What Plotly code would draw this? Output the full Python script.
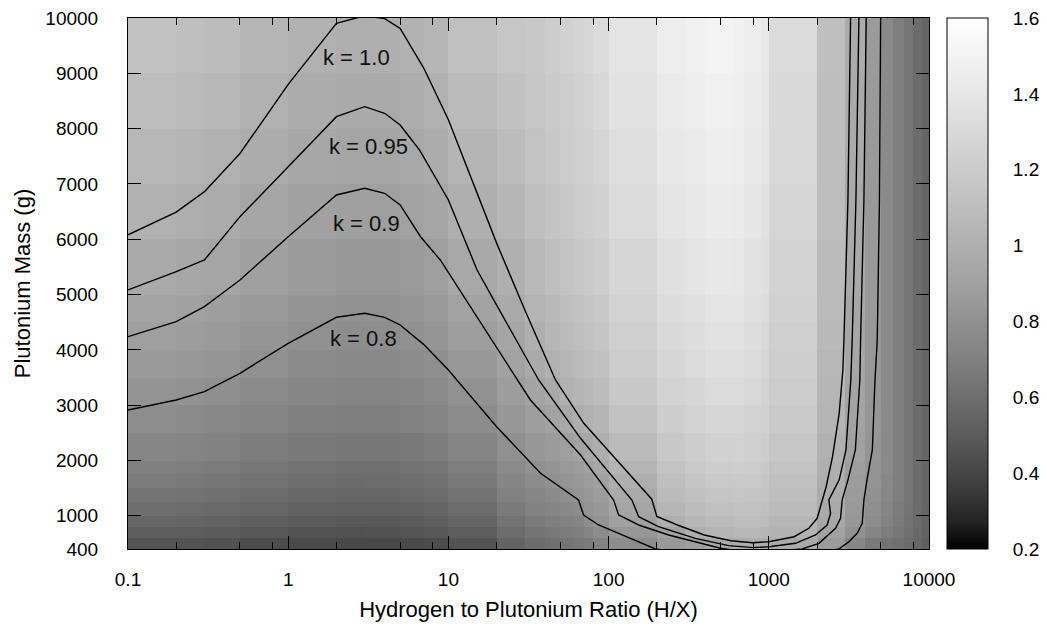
import math
import plotly.graph_objects as go

# ---------------- data ----------------
# H/X grid (cell edges of the pm3d map)
hx_edges = [0.1, 0.2, 0.3, 0.5, 1, 2, 3, 5, 7, 10, 20, 30, 40, 50, 60, 70, 80, 100,
            200, 300, 400, 600, 700, 900, 1000, 2000, 3000, 4000, 5000, 6000, 7000,
            8000, 9000, 10000]
# plutonium mass grid (cell edges, g)
mass_edges = [400, 600, 800, 1000, 1250, 1500, 1750, 2000, 2500, 3000, 3500, 4000, 4500,
              5000, 6000, 7000, 8000, 9000, 10000]

# k-eff read from the grey level of each cell, one list per H/X band (bottom -> top)
k_columns = [
    [0.467, 0.517, 0.558, 0.596, 0.633, 0.666, 0.695, 0.734, 0.779, 0.819, 0.855, 0.888, 0.918, 0.960, 1.009, 1.053, 1.093, 1.131],  # 0.1-0.2
    [0.459, 0.509, 0.549, 0.586, 0.623, 0.655, 0.684, 0.722, 0.766, 0.806, 0.841, 0.873, 0.903, 0.944, 0.992, 1.036, 1.075, 1.112],  # 0.2-0.3
    [0.450, 0.498, 0.537, 0.574, 0.610, 0.641, 0.669, 0.707, 0.750, 0.789, 0.823, 0.855, 0.884, 0.925, 0.972, 1.014, 1.053, 1.089],  # 0.3-0.5
    [0.433, 0.480, 0.518, 0.553, 0.587, 0.618, 0.645, 0.681, 0.723, 0.760, 0.793, 0.824, 0.852, 0.891, 0.936, 0.977, 1.014, 1.049],  # 0.5-1
    [0.418, 0.462, 0.499, 0.533, 0.566, 0.596, 0.622, 0.657, 0.697, 0.733, 0.765, 0.794, 0.821, 0.859, 0.903, 0.942, 0.978, 1.012],  # 1-2
    [0.410, 0.454, 0.490, 0.523, 0.556, 0.585, 0.610, 0.645, 0.684, 0.719, 0.751, 0.780, 0.806, 0.843, 0.886, 0.925, 0.960, 0.993],  # 2-3
    [0.411, 0.455, 0.491, 0.524, 0.557, 0.586, 0.611, 0.646, 0.685, 0.720, 0.752, 0.781, 0.808, 0.845, 0.888, 0.926, 0.962, 0.995],  # 3-5
    [0.420, 0.465, 0.502, 0.536, 0.569, 0.599, 0.625, 0.660, 0.700, 0.736, 0.769, 0.798, 0.825, 0.863, 0.907, 0.947, 0.983, 1.017],  # 5-7
    [0.433, 0.479, 0.517, 0.552, 0.586, 0.617, 0.644, 0.680, 0.722, 0.759, 0.792, 0.823, 0.851, 0.889, 0.935, 0.976, 1.013, 1.048],  # 7-10
    [0.462, 0.511, 0.551, 0.589, 0.626, 0.658, 0.687, 0.725, 0.770, 0.809, 0.845, 0.878, 0.907, 0.949, 0.997, 1.041, 1.080, 1.118],  # 10-20
    [0.538, 0.587, 0.627, 0.664, 0.700, 0.731, 0.759, 0.795, 0.838, 0.875, 0.908, 0.938, 0.966, 1.004, 1.048, 1.088, 1.124, 1.157],  # 20-30
    [0.59, 0.63, 0.67, 0.70, 0.735, 0.77, 0.80, 0.835, 0.88, 0.92, 0.965, 0.995, 1.03, 1.07, 1.11, 1.14, 1.16, 1.175],  # 30-40
    [0.61, 0.65, 0.69, 0.725, 0.76, 0.80, 0.82, 0.86, 0.91, 0.965, 1.01, 1.045, 1.07, 1.11, 1.145, 1.17, 1.19, 1.21],   # 40-50
    [0.63, 0.67, 0.71, 0.75, 0.79, 0.82, 0.85, 0.89, 0.95, 1.01, 1.05, 1.08, 1.10, 1.14, 1.175, 1.20, 1.22, 1.24],      # 50-60
    [0.65, 0.69, 0.73, 0.77, 0.81, 0.84, 0.87, 0.92, 0.99, 1.04, 1.08, 1.11, 1.13, 1.165, 1.20, 1.225, 1.245, 1.265],   # 60-70
    [0.67, 0.73, 0.79, 0.81, 0.84, 0.87, 0.90, 0.95, 1.01, 1.06, 1.10, 1.13, 1.15, 1.185, 1.22, 1.245, 1.265, 1.285],   # 70-80
    [0.71, 0.77, 0.81, 0.84, 0.87, 0.90, 0.95, 0.99, 1.04, 1.09, 1.12, 1.15, 1.175, 1.21, 1.245, 1.27, 1.29, 1.31],     # 80-100
    [0.78, 0.83, 0.90, 0.93, 0.96, 0.99, 1.03, 1.08, 1.13, 1.17, 1.20, 1.23, 1.25, 1.28, 1.315, 1.34, 1.365, 1.385],    # 100-200
    [0.85, 0.91, 1.00, 1.05, 1.08, 1.11, 1.14, 1.17, 1.21, 1.25, 1.28, 1.30, 1.32, 1.35, 1.38, 1.41, 1.43, 1.45],       # 200-300
    [0.89, 1.00, 1.05, 1.09, 1.12, 1.15, 1.18, 1.21, 1.25, 1.28, 1.31, 1.33, 1.35, 1.38, 1.41, 1.44, 1.46, 1.48],       # 300-400
    [0.95, 1.04, 1.08, 1.12, 1.15, 1.18, 1.21, 1.24, 1.28, 1.31, 1.34, 1.36, 1.38, 1.41, 1.44, 1.46, 1.48, 1.50],       # 400-600
    [0.98, 1.06, 1.10, 1.13, 1.16, 1.19, 1.22, 1.25, 1.28, 1.31, 1.34, 1.36, 1.38, 1.405, 1.43, 1.45, 1.47, 1.49],      # 600-700
    [0.99, 1.06, 1.10, 1.13, 1.15, 1.18, 1.20, 1.23, 1.26, 1.29, 1.31, 1.33, 1.35, 1.37, 1.40, 1.42, 1.44, 1.45],       # 700-900
    [0.99, 1.05, 1.09, 1.12, 1.14, 1.16, 1.18, 1.21, 1.24, 1.26, 1.28, 1.30, 1.32, 1.34, 1.36, 1.38, 1.40, 1.41],       # 900-1000
    [0.96, 1.02, 1.05, 1.08, 1.10, 1.12, 1.14, 1.16, 1.18, 1.20, 1.22, 1.23, 1.24, 1.26, 1.27, 1.29, 1.30, 1.31],       # 1000-2000
    [0.86, 0.91, 0.945, 0.96, 0.975, 0.99, 1.00, 1.015, 1.03, 1.045, 1.055, 1.065, 1.075, 1.085, 1.095, 1.10, 1.105, 1.11],  # 2000-3000
    [0.74, 0.80, 0.835, 0.85, 0.86, 0.87, 0.88, 0.90, 0.915, 0.925, 0.935, 0.94, 0.945, 0.95, 0.955, 0.96, 0.965, 0.97],    # 3000-4000
    [0.66, 0.73, 0.77, 0.79, 0.80, 0.81, 0.82, 0.825, 0.83, 0.835, 0.84, 0.845, 0.85, 0.85, 0.85, 0.855, 0.855, 0.86],      # 4000-5000
    [0.63, 0.68, 0.71, 0.73, 0.74, 0.75, 0.76, 0.76, 0.76, 0.76, 0.76, 0.76, 0.76, 0.76, 0.76, 0.76, 0.76, 0.76],           # 5000-6000
    [0.61, 0.645, 0.665, 0.675, 0.685, 0.69, 0.69, 0.69, 0.69, 0.69, 0.69, 0.69, 0.69, 0.69, 0.69, 0.69, 0.69, 0.69],       # 6000-7000
    [0.585, 0.61, 0.62, 0.63, 0.635, 0.635, 0.635, 0.635, 0.635, 0.635, 0.635, 0.635, 0.635, 0.635, 0.635, 0.635, 0.635, 0.635],  # 7000-8000
    [0.555, 0.57, 0.58, 0.585, 0.59, 0.59, 0.59, 0.59, 0.59, 0.59, 0.59, 0.59, 0.59, 0.59, 0.59, 0.59, 0.59, 0.59],        # 8000-9000
    [0.525, 0.535, 0.545, 0.55, 0.55, 0.55, 0.55, 0.55, 0.55, 0.55, 0.55, 0.55, 0.55, 0.55, 0.55, 0.55, 0.55, 0.55],       # 9000-10000
]

# contour lines (H/X, mass in g)
k100_hx = [0.1, 0.2, 0.3, 0.5, 1, 2, 3, 4, 5, 7, 10, 20, 30, 46.6, 70, 108, 186, 200, 269,
           395, 580, 790, 1000, 1440, 1778, 2004, 2104, 2155, 2280, 2500, 2750, 2900,
           2944, 3119, 3240]
k100_mass = [6080, 6490, 6860, 7550, 8800, 9905, 10040, 9990, 9810, 9100, 8160, 5930, 4720,
             3456, 2673, 2069, 1300, 990, 834, 653, 550, 514, 532, 622, 774, 955, 1165,
             1286, 1526, 2069, 2853, 3636, 4180, 6710, 10000]

k095_hx = [0.1, 0.2, 0.3, 0.5, 1, 2, 3, 4, 5, 6.6, 10, 15.1, 20, 30, 36.6, 66.8, 139.8, 154,
           205, 348, 562, 800, 1000, 1468, 1958, 2313, 2430, 2371, 2750, 3030, 3250,
           3316, 3498, 3652]
k095_mass = [5083, 5414, 5625, 6408, 7312, 8216, 8397, 8277, 8066, 7614, 6710, 5444, 4810,
             3901, 3456, 2401, 1286, 984, 803, 593, 460, 425, 442, 503, 653, 834, 1045,
             1286, 1650, 2190, 3456, 4180, 6710, 10000]

k090_hx = [0.1, 0.2, 0.3, 0.5, 1, 2, 3, 4, 5, 6.7, 8.9, 20, 32.5, 66.8, 107.5, 115.5, 154,
           237, 499, 600, 1200, 1614, 2054, 2610, 2805, 2871, 3120, 3470, 3700, 3741,
           3924, 4055]
k090_mass = [4239, 4510, 4781, 5263, 6046, 6800, 6922, 6831, 6620, 6046, 5625, 4050, 3094,
             2100, 1286, 1015, 834, 653, 413, 380, 370, 400, 503, 774, 955, 1286, 1650,
             2190, 3456, 4180, 6710, 10000]

k080_hx = [0.1, 0.2, 0.3, 0.5, 1, 2, 3, 4, 5, 7, 10, 20, 37.6, 64.9, 69.8, 86.6, 115.5,
           196, 300, 2000, 2738, 3162, 3562, 3830, 3924, 4100, 4430, 4600, 4753, 4906,
           4990]
k080_mass = [2913, 3094, 3244, 3577, 4119, 4589, 4661, 4589, 4450, 4100, 3636, 2611, 1769,
             1286, 1015, 834, 684, 400, 330, 330, 400, 532, 684, 865, 1286, 1650, 2190,
             3456, 4180, 6710, 10000]

contours = [(k100_hx, k100_mass), (k095_hx, k095_mass), (k090_hx, k090_mass),
            (k080_hx, k080_mass)]

label_text = ["k = 1.0", "k = 0.95", "k = 0.9", "k = 0.8"]
label_hx = [2.66, 3.16, 3.07, 2.94]
label_mass = [9277, 7668, 6276, 4197]

x_tick_vals = [0.1, 1, 10, 100, 1000, 10000]
x_tick_text = ["0.1", "1", "10", "100", "1000", "10000"]
x_minor_vals = [0.2, 0.5, 0.8, 2, 5, 8, 20, 50, 80, 200, 500, 800, 2000, 5000, 8000]
y_tick_vals = [400, 1000, 2000, 3000, 4000, 5000, 6000, 7000, 8000, 9000, 10000]
y_tick_text = [str(v) for v in y_tick_vals]
cb_tick_vals = [0.2, 0.4, 0.6, 0.8, 1.0, 1.2, 1.4, 1.6]
cb_tick_text = ["0.2", "0.4", "0.6", "0.8", "1", "1.2", "1.4", "1.6"]

# ---------------- figure ----------------
FONT = "Liberation Sans, Arial, Helvetica, sans-serif"
TICK_SIZE = 19
TEXT_SIZE = 22
z = [list(row) for row in zip(*k_columns)]

# gnuplot grey palette (gamma 1.5)
gray_scale = []
for i in range(21):
    t = i / 20
    g = round(255 * t ** (1 / 1.5))
    gray_scale.append([t, f"rgb({g},{g},{g})"])

fig = go.Figure()
fig.add_trace(go.Heatmap(
    x=hx_edges, y=mass_edges, z=z, zmin=0.2, zmax=1.6, colorscale=gray_scale,
    hoverinfo="skip",
    colorbar=dict(
        x=1.0225, xanchor="left", xpad=0, y=0, yanchor="bottom", ypad=0,
        len=1, lenmode="fraction", thickness=41, thicknessmode="pixels",
        outlinecolor="black", outlinewidth=1,
        tickvals=cb_tick_vals, ticktext=cb_tick_text,
        ticks="outside", ticklen=21, tickcolor="rgba(0,0,0,0)",
        tickfont=dict(family=FONT, size=TICK_SIZE, color="black"),
    ),
))

for hx, mass in contours:
    fig.add_trace(go.Scatter(x=hx, y=mass, mode="lines",
                             line=dict(color="black", width=1.4),
                             showlegend=False, hoverinfo="skip"))

for txt, hx, m in zip(label_text, label_hx, label_mass):
    fig.add_annotation(x=math.log10(hx), y=m, xref="x", yref="y", text=txt,
                       showarrow=False, font=dict(family=FONT, size=TEXT_SIZE, color="#111"))

# colorbar inner tick marks on both sides
plot_w = 1047 - 128 - 118
cb_left = 1.0225
cb_right = cb_left + 41 / plot_w
tl = 8 / plot_w
for v in cb_tick_vals[1:-1]:
    yp = (v - 0.2) / 1.4
    fig.add_shape(type="line", xref="paper", yref="paper", x0=cb_left, x1=cb_left + tl,
                  y0=yp, y1=yp, line=dict(color="black", width=1))
    fig.add_shape(type="line", xref="paper", yref="paper", x0=cb_right - tl, x1=cb_right,
                  y0=yp, y1=yp, line=dict(color="black", width=1))

axis_common = dict(showline=True, linecolor="black", linewidth=1, mirror="allticks",
                   ticks="inside", ticklen=13, tickwidth=1, tickcolor="black",
                   showgrid=False, zeroline=False,
                   tickfont=dict(family=FONT, size=TICK_SIZE, color="black"))

fig.update_xaxes(type="log", range=[-1, 4], tickvals=x_tick_vals, ticktext=x_tick_text,
                 minor=dict(tickvals=x_minor_vals, ticks="inside", ticklen=7,
                            tickcolor="black", tickwidth=1),
                 title=dict(text="Hydrogen to Plutonium Ratio (H/X)",
                            font=dict(family=FONT, size=TEXT_SIZE, color="black"), standoff=12),
                 ticklabelstandoff=13,
                 **axis_common)
fig.update_yaxes(range=[400, 10000], tickvals=y_tick_vals, ticktext=y_tick_text,
                 title=dict(text="Plutonium Mass (g)",
                            font=dict(family=FONT, size=TEXT_SIZE, color="black"), standoff=8),
                 ticklabelstandoff=25,
                 **axis_common)

fig.update_layout(width=1047, height=633, autosize=False,
                  margin=dict(l=128, r=118, t=18, b=84, autoexpand=False),
                  paper_bgcolor="white", plot_bgcolor="white",
                  font=dict(family=FONT, size=TICK_SIZE, color="black"))

fig.write_html("out.html", config={"displayModeBar": False},
               post_script="document.body.style.margin='0';")
